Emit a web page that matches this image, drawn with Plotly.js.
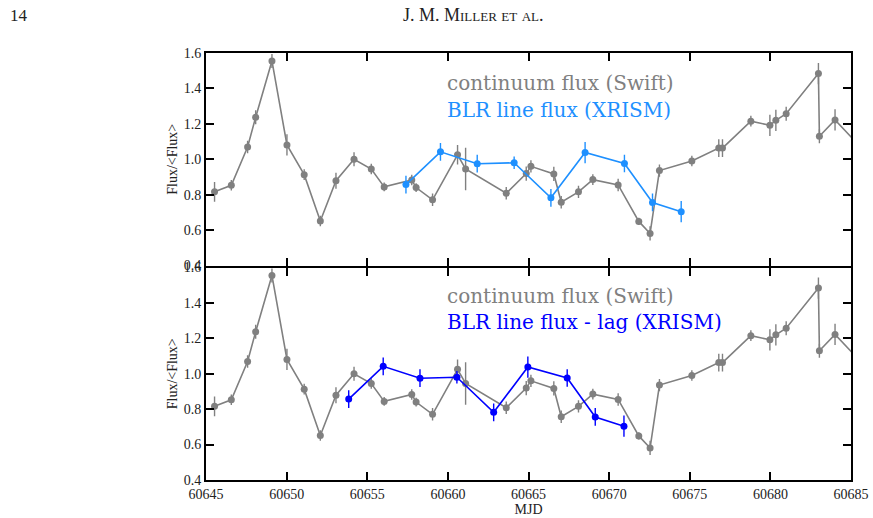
<!DOCTYPE html>
<html>
<head>
<meta charset="utf-8">
<script src="https://cdn.plot.ly/plotly-3.0.1.min.js"></script>
<style>
  html, body { margin: 0; padding: 0; background: #ffffff; }
  #chart { width: 873px; height: 518px; }
</style>
</head>
<body>
<div id="chart"></div>
<script>
// Swift continuum light curve (normalised to the mean)
const swiftMjd  = [60645.53, 60646.57, 60647.58, 60648.08, 60649.09, 60650.02, 60651.09, 60652.09,
                   60653.06, 60654.18, 60655.25, 60656.05, 60657.76, 60658.03, 60659.05, 60660.60,
                   60661.10, 60663.62, 60664.86, 60665.15, 60666.57, 60667.03, 60668.10, 60668.99,
                   60670.56, 60671.84, 60672.54, 60673.12, 60675.13, 60676.80, 60677.03, 60678.79,
                   60679.97, 60680.34, 60680.98, 60682.98, 60683.04, 60684.01, 60686.00];
const swiftFlux = [0.816, 0.853, 1.069, 1.237, 1.555, 1.081, 0.913, 0.651,
                   0.879, 1.000, 0.945, 0.844, 0.883, 0.840, 0.771, 1.025,
                   0.945, 0.808, 0.919, 0.960, 0.917, 0.757, 0.816, 0.885,
                   0.855, 0.649, 0.581, 0.936, 0.990, 1.063, 1.063, 1.215,
                   1.192, 1.220, 1.257, 1.484, 1.130, 1.222, 1.030];
const swiftErr  = [0.056, 0.030, 0.035, 0.040, 0.040, 0.060, 0.030, 0.030,
                   0.045, 0.040, 0.030, 0.025, 0.030, 0.025, 0.035, 0.055,
                   0.120, 0.035, 0.040, 0.035, 0.040, 0.035, 0.035, 0.030,
                   0.035, 0.020, 0.040, 0.035, 0.030, 0.050, 0.050, 0.030,
                   0.060, 0.060, 0.040, 0.060, 0.040, 0.060, 0.040];

// XRISM broad-line-region line flux (normalised to the mean)
const xrismMjd  = [60657.40, 60659.54, 60661.82, 60664.11, 60666.39, 60668.51, 60670.95, 60672.69, 60674.47];
const xrismFlux = [0.857, 1.042, 0.975, 0.980, 0.782, 1.038, 0.976, 0.756, 0.704];
const xrismErr  = [0.050, 0.050, 0.050, 0.035, 0.050, 0.060, 0.050, 0.050, 0.060];

// Same line fluxes placed at their lag-corrected times
const laggedMjd = [60653.85, 60655.99, 60658.27, 60660.56, 60662.84, 60664.96, 60667.40, 60669.14, 60670.92];

const yTicks = [0.4, 0.6, 0.8, 1.0, 1.2, 1.4, 1.6];
const xTicks = [60645, 60650, 60655, 60660, 60665, 60670, 60675, 60680, 60685];

const GRAY = '#808080';
const SKY = '#1e90ff';
const BLUE = '#0000ff';
const SERIF = 'Liberation Serif';
const LABEL_SERIF = 'DejaVu Serif';

function series(x, y, err, color, xa, ya) {
  return {
    x: x, y: y, xaxis: xa, yaxis: ya,
    type: 'scatter', mode: 'lines+markers',
    line: { color: color, width: 1.6 },
    marker: { color: color, size: 7 },
    error_y: { type: 'data', array: err, visible: true, color: color, thickness: 1.4, width: 0 },
    showlegend: false,
    hoverinfo: 'x+y'
  };
}

const traces = [
  series(swiftMjd, swiftFlux, swiftErr, GRAY, 'x', 'y'),
  series(xrismMjd, xrismFlux, xrismErr, SKY, 'x', 'y'),
  series(swiftMjd, swiftFlux, swiftErr, GRAY, 'x2', 'y2'),
  series(laggedMjd, xrismFlux, xrismErr, BLUE, 'x2', 'y2')
];

const frame = {
  showline: true, linecolor: '#000', linewidth: 2, mirror: 'ticks',
  ticks: 'inside', ticklen: 8, tickwidth: 2, tickcolor: '#000',
  showgrid: false, zeroline: false,
  tickfont: { family: SERIF, size: 14, color: '#222' }
};

const xCommon = Object.assign({}, frame, {
  range: [60645, 60685], tickvals: xTicks, ticktext: xTicks.map(String)
});
const yCommon = Object.assign({}, frame, {
  range: [0.4, 1.6], tickvals: yTicks, tickformat: '.1f',
  title: { text: 'Flux/&lt;Flux&gt;', font: { family: SERIF, size: 14, color: '#222' }, standoff: 3 }
});

function textFont(c) {
  return { family: LABEL_SERIF, size: 20, color: c };
}

// the two panels share one 2px divider: each frame line sits just outside its panel
const GAP = 1 / 427;

const layout = {
  width: 873, height: 518,
  font: { family: SERIF, size: 14, color: '#222' },
  margin: { l: 206, r: 22, t: 53, b: 38 },
  paper_bgcolor: '#fff', plot_bgcolor: '#fff',
  xaxis: Object.assign({}, xCommon, { anchor: 'y', showticklabels: false }),
  yaxis: Object.assign({}, yCommon, { domain: [0.5 + GAP, 1], anchor: 'x' }),
  xaxis2: Object.assign({}, xCommon, {
    anchor: 'y2', matches: 'x',
    title: { text: 'MJD', font: { family: SERIF, size: 14, color: '#222' }, standoff: 0 }
  }),
  yaxis2: Object.assign({}, yCommon, { domain: [0, 0.5 - GAP], anchor: 'x2' }),
  annotations: [
    { xref: 'x', yref: 'y', x: 60659.8, y: 1.43, xanchor: 'left', yanchor: 'middle', showarrow: false,
      text: 'continuum flux (Swift)', font: textFont(GRAY) },
    { xref: 'x', yref: 'y', x: 60659.8, y: 1.28, xanchor: 'left', yanchor: 'middle', showarrow: false,
      text: 'BLR line flux (XRISM)', font: textFont(SKY) },
    { xref: 'x2', yref: 'y2', x: 60659.8, y: 1.44, xanchor: 'left', yanchor: 'middle', showarrow: false,
      text: 'continuum flux (Swift)', font: textFont(GRAY) },
    { xref: 'x2', yref: 'y2', x: 60659.8, y: 1.29, xanchor: 'left', yanchor: 'middle', showarrow: false,
      text: 'BLR line flux - lag (XRISM)', font: textFont(BLUE) },
    // running page header
    { xref: 'paper', yref: 'paper', x: -0.307, y: 1.088, xanchor: 'left', yanchor: 'middle', showarrow: false,
      text: '14', font: { family: SERIF, size: 17, color: '#222' } },
    { xref: 'paper', yref: 'paper', x: 0.414, y: 1.088, xanchor: 'center', yanchor: 'middle', showarrow: false,
      text: 'J. M. Miller et al.', font: { family: SERIF, size: 18, color: '#222', variant: 'small-caps' } }
  ]
};

Plotly.newPlot('chart', traces, layout, { staticPlot: true, displayModeBar: false });
</script>
</body>
</html>
